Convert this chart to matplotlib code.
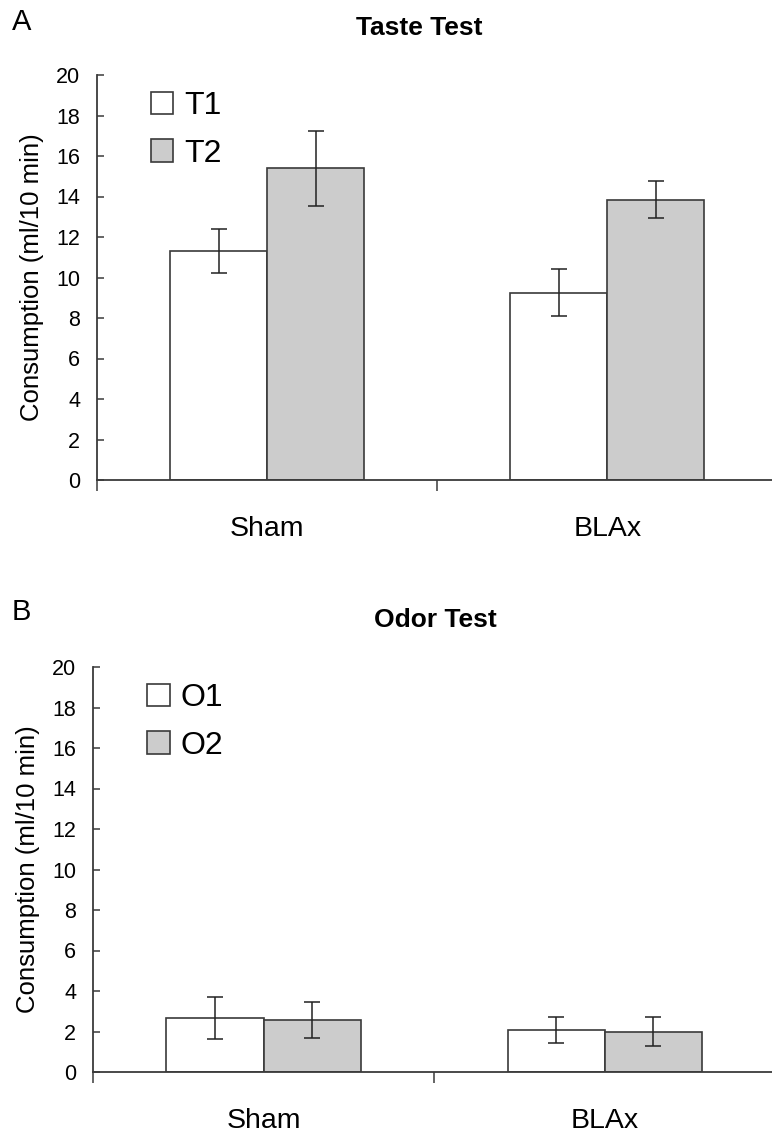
import numpy as np
import matplotlib.pyplot as plt
from matplotlib.patches import Patch

plt.rcParams['font.family'] = ['Liberation Sans', 'DejaVu Sans']

# Data
groups = ["Sham", "BLAx"]

taste_t1 = [11.3, 9.25]
taste_t1_err = [1.1, 1.15]
taste_t2 = [15.4, 13.85]
taste_t2_err = [1.85, 0.9]

odor_o1 = [2.67, 2.07]
odor_o1_err = [1.03, 0.65]
odor_o2 = [2.57, 1.98]
odor_o2_err = [0.87, 0.72]

yticks = np.arange(0, 21, 2)

edge = '#3a3a3a'
gray = '#cccccc'
w = 0.285

fig = plt.figure(figsize=(7.72, 11.37), dpi=100)


def panel(rect, v1, e1, v2, e2, labels, xright):
    ax = fig.add_axes(rect)
    x = np.arange(len(groups))
    ax.bar(x - w / 2, v1, w, color='white', edgecolor=edge, linewidth=1.2, zorder=2)
    ax.bar(x + w / 2, v2, w, color=gray, edgecolor=edge, linewidth=1.2, zorder=2)
    ax.errorbar(x - w / 2, v1, yerr=e1, fmt='none', ecolor='#222222',
                elinewidth=1.1, capsize=5.5, capthick=1.1, zorder=3)
    ax.errorbar(x + w / 2, v2, yerr=e2, fmt='none', ecolor='#222222',
                elinewidth=1.1, capsize=5.5, capthick=1.1, zorder=3)
    ax.set_xlim(-0.5, xright)
    ax.set_ylim(0, 20)
    ax.set_yticks(yticks)
    ax.set_xticks(x)
    ax.set_xticklabels(groups, fontsize=20.5)
    ax.set_xticks([-0.5, 0.5], minor=True)
    ax.tick_params(axis='x', which='major', length=0, pad=26)
    ax.tick_params(axis='x', which='minor', length=8, width=1.1, color=edge, direction='out')
    ax.tick_params(axis='y', direction='in', length=5, width=1.1, color=edge,
                   labelsize=15.5, pad=12)
    for s in ['top', 'right']:
        ax.spines[s].set_visible(False)
    for s in ['left', 'bottom']:
        ax.spines[s].set_color(edge)
        ax.spines[s].set_linewidth(1.3)
    ax.set_ylabel("Consumption (ml/10 min)", fontsize=18.5, labelpad=9)
    handles = [Patch(facecolor='white', edgecolor=edge, linewidth=1.2),
               Patch(facecolor=gray, edgecolor=edge, linewidth=1.2)]
    ax.legend(handles, labels, loc='upper left', bbox_to_anchor=(0.08, 0.96),
              frameon=False, fontsize=23, handlelength=0.7, handleheight=0.7,
              handletextpad=0.35, labelspacing=0.55, borderpad=0, borderaxespad=0)
    return ax


axA = panel([97 / 772, 1 - 480 / 1137, 675 / 772, 405 / 1137],
            taste_t1, taste_t1_err, taste_t2, taste_t2_err, ["T1", "T2"], 1.484)
axB = panel([93 / 772, 1 - 1072 / 1137, 679 / 772, 405 / 1137],
            odor_o1, odor_o1_err, odor_o2, odor_o2_err, ["O1", "O2"], 1.49)

fig.text(419 / 772, 1 - 35 / 1137, "Taste Test", fontsize=19, fontweight='bold',
         ha='center', va='baseline')
fig.text(435 / 772, 1 - 627 / 1137, "Odor Test", fontsize=19, fontweight='bold',
         ha='center', va='baseline')
fig.text(12 / 772, 1 - 30 / 1137, "A", fontsize=21, ha='left', va='baseline')
fig.text(12 / 772, 1 - 620 / 1137, "B", fontsize=21, ha='left', va='baseline')

fig.savefig("out.png", dpi=100)
